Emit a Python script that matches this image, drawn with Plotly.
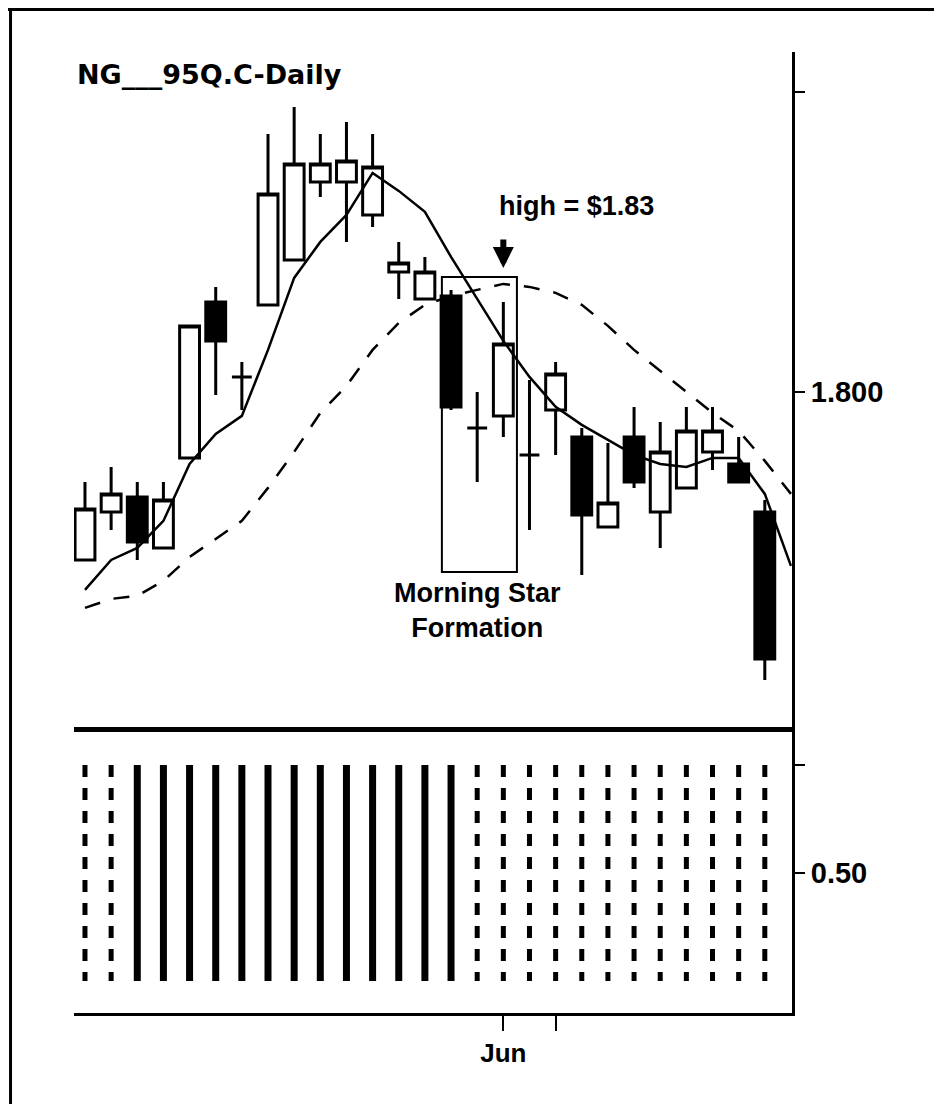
import plotly.graph_objects as go

# trading days (last one only carries the moving averages)
days = ["1995-05-09", "1995-05-10", "1995-05-11", "1995-05-12", "1995-05-15",
        "1995-05-16", "1995-05-17", "1995-05-18", "1995-05-19", "1995-05-22",
        "1995-05-23", "1995-05-24", "1995-05-25", "1995-05-26", "1995-05-30",
        "1995-05-31", "1995-06-01", "1995-06-02", "1995-06-05", "1995-06-06",
        "1995-06-07", "1995-06-08", "1995-06-09", "1995-06-12", "1995-06-13",
        "1995-06-14", "1995-06-15", "1995-06-16"]

opens  = [1.744, 1.760, 1.765, 1.748, 1.778, 1.830, 1.805, 1.829, 1.844, 1.870,
          1.870, 1.859, 1.840, 1.831, 1.832, 1.788, 1.792, 1.779, 1.794, 1.785,
          1.755, 1.785, 1.760, 1.768, 1.780, 1.776, 1.760]
highs  = [1.770, 1.775, 1.770, 1.770, 1.822, 1.835, 1.810, 1.886, 1.895, 1.886,
          1.890, 1.886, 1.850, 1.845, 1.834, 1.800, 1.830, 1.804, 1.810, 1.788,
          1.783, 1.795, 1.790, 1.795, 1.795, 1.785, 1.764]
lows   = [1.744, 1.754, 1.744, 1.748, 1.778, 1.799, 1.794, 1.829, 1.844, 1.865,
          1.850, 1.855, 1.831, 1.831, 1.794, 1.770, 1.785, 1.754, 1.779, 1.739,
          1.755, 1.768, 1.748, 1.768, 1.774, 1.770, 1.704]
closes = [1.761, 1.766, 1.750, 1.764, 1.822, 1.817, 1.805, 1.866, 1.876, 1.876,
          1.877, 1.875, 1.843, 1.840, 1.795, 1.788, 1.816, 1.779, 1.806, 1.759,
          1.763, 1.770, 1.780, 1.787, 1.787, 1.770, 1.711]

ma_fast = [1.734, 1.744, 1.748, 1.757, 1.776, 1.786, 1.792, 1.814, 1.838, 1.850,
           1.859, 1.873, 1.867, 1.860, 1.845, 1.831, 1.817, 1.805, 1.795, 1.789,
           1.784, 1.779, 1.776, 1.775, 1.778, 1.778, 1.766, 1.742]
ma_slow = [1.728, 1.731, 1.732, 1.737, 1.745, 1.751, 1.757, 1.768, 1.780, 1.793,
           1.802, 1.814, 1.823, 1.829, 1.832, 1.834, 1.836, 1.835, 1.833, 1.829,
           1.822, 1.814, 1.807, 1.800, 1.793, 1.787, 1.777, 1.766]

# lower study: bar value and whether it is drawn solid
study = [1.0] * 27
study_solid = [False, False, True, True, True, True, True, True, True, True,
               True, True, True, True, True, False, False, False, False, False,
               False, False, False, False, False, False, False]

BOLD = dict(family="Liberation Sans, Arial, sans-serif", color="black", weight="bold")

fig = go.Figure()

fig.add_trace(go.Candlestick(
    x=days[:27], open=opens, high=highs, low=lows, close=closes,
    increasing=dict(line=dict(color="black", width=3), fillcolor="white"),
    decreasing=dict(line=dict(color="black", width=3), fillcolor="black"),
    whiskerwidth=0, xaxis="x", yaxis="y", showlegend=False))

fig.add_trace(go.Scatter(x=days, y=ma_fast, mode="lines",
                         line=dict(color="black", width=2.5),
                         xaxis="x", yaxis="y", showlegend=False))
fig.add_trace(go.Scatter(x=days, y=ma_slow, mode="lines",
                         line=dict(color="black", width=2.5, dash="16px,14px"),
                         xaxis="x", yaxis="y", showlegend=False))

# study bars as vertical strokes
for solid in (True, False):
    xs, ys = [], []
    for d, v, s in zip(days, study, study_solid):
        if s == solid:
            xs += [d, d, None]
            ys += [v, 0, None]
    fig.add_trace(go.Scatter(
        x=xs, y=ys, mode="lines", xaxis="x2", yaxis="y2", showlegend=False,
        line=dict(color="black", width=7 if solid else 5,
                  dash="solid" if solid else "12px,11px")))

xr = [-0.42, 27.04]
split = (1013 - 727) / 961

# page body keeps an 8px margin, so the figure is 16px smaller than the window
fig.update_layout(
    width=926, height=1096,
    margin=dict(l=66, r=142, t=44, b=91),
    paper_bgcolor="white", plot_bgcolor="white",
    boxgap=0.2, boxgroupgap=0.05,
    xaxis=dict(domain=[0, 1], anchor="y", type="category", range=xr,
               categoryorder="array", categoryarray=days,
               showline=True, linewidth=5, linecolor="black",
               showticklabels=False, ticks="", showgrid=False,
               rangeslider=dict(visible=False)),
    yaxis=dict(domain=[split, 1], anchor="x", side="right", range=[1.6883, 1.9133],
               showline=True, linewidth=3, linecolor="black", showgrid=False,
               zeroline=False, ticks="outside", ticklen=10, tickwidth=2,
               tickcolor="black", tickvals=[1.8, 1.9], ticktext=["1.800", ""],
               tickfont=dict(size=29, **BOLD)),
    xaxis2=dict(domain=[0, 1], anchor="y2", type="category", range=xr,
                categoryorder="array", categoryarray=days,
                showline=True, linewidth=3, linecolor="black", showgrid=False,
                ticks="outside", ticklen=15, tickwidth=2, tickcolor="black",
                tickvals=["1995-06-01", "1995-06-05"], ticktext=["Jun", ""],
                tickfont=dict(size=26, **BOLD)),
    yaxis2=dict(domain=[0, split], anchor="x2", side="right", range=[-0.148, 1.176],
                showline=True, linewidth=3, linecolor="black", showgrid=False,
                zeroline=False, ticks="outside", ticklen=10, tickwidth=2,
                tickcolor="black", tickvals=[0.5, 1.0], ticktext=["0.50", ""],
                tickfont=dict(size=29, **BOLD)),
    hovermode=False,
)

# page frame (top and left edges)
fig.add_shape(type="line", xref="paper", yref="paper", x0=-0.11, x1=1.22,
              y0=1.0447, y1=1.0447, line=dict(color="black", width=4))
fig.add_shape(type="line", xref="paper", yref="paper", x0=-0.0884, x1=-0.0884,
              y0=1.0447, y1=-0.11, line=dict(color="black", width=3))

# Morning Star box
fig.add_shape(type="rect", xref="x", yref="y", x0=13.65, x1=16.52, y0=1.740, y1=1.8383,
              line=dict(color="black", width=2))

fig.add_annotation(xref="paper", yref="paper", x=0.0014, y=0.977, xanchor="left",
                   yanchor="middle", showarrow=False, text="NG___95Q.C-Daily",
                   font=dict(family="DejaVu Sans", size=27, color="black", weight="bold"))
fig.add_annotation(xref="x", yref="y", x=15.75, y=1.862, xanchor="left", yanchor="middle",
                   showarrow=False, text="high = $1.83", font=dict(size=27, **BOLD))
fig.add_annotation(xref="x", yref="y", x=16, y=1.8413, text="", showarrow=True,
                   ax=0, ay=-30, arrowhead=2, arrowwidth=6, arrowsize=0.7,
                   arrowcolor="black")
fig.add_annotation(xref="x", yref="y", x=15.03, y=1.7272, showarrow=False,
                   text="Morning Star<br>Formation", align="center",
                   font=dict(size=27, **BOLD))

fig.write_html("out.html")
